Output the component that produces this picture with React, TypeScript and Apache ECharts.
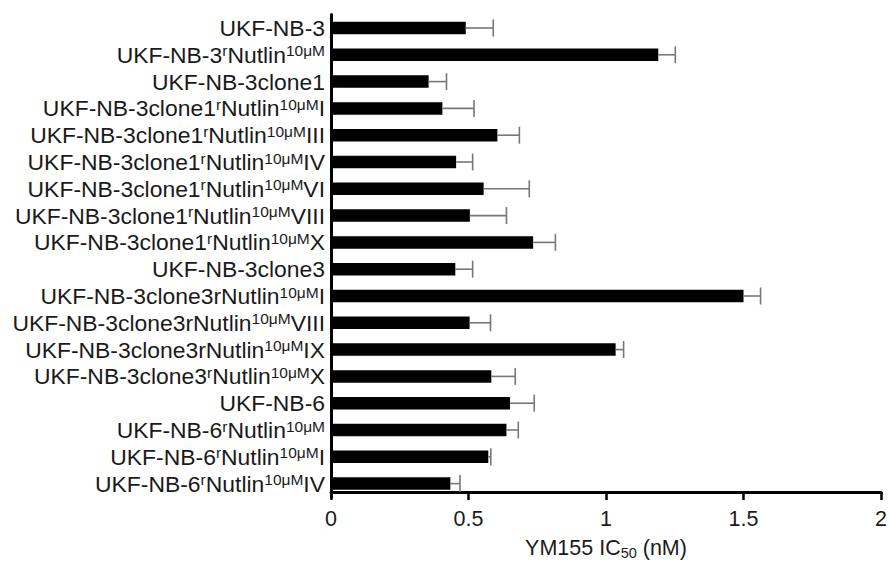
import React, { useEffect, useRef } from "react";
import * as echarts from "echarts";

// {s|...} marks superscript text in a label
const categories: string[] = [
  "UKF-NB-3",
  "UKF-NB-3{s|r}Nutlin{s|10μM}",
  "UKF-NB-3clone1",
  "UKF-NB-3clone1{s|r}Nutlin{s|10μM}I",
  "UKF-NB-3clone1{s|r}Nutlin{s|10μM}III",
  "UKF-NB-3clone1{s|r}Nutlin{s|10μM}IV",
  "UKF-NB-3clone1{s|r}Nutlin{s|10μM}VI",
  "UKF-NB-3clone1{s|r}Nutlin{s|10μM}VIII",
  "UKF-NB-3clone1{s|r}Nutlin{s|10μM}X",
  "UKF-NB-3clone3",
  "UKF-NB-3clone3rNutlin{s|10μM}I",
  "UKF-NB-3clone3rNutlin{s|10μM}VIII",
  "UKF-NB-3clone3rNutlin{s|10μM}IX",
  "UKF-NB-3clone3{s|r}Nutlin{s|10μM}X",
  "UKF-NB-6",
  "UKF-NB-6{s|r}Nutlin{s|10μM}",
  "UKF-NB-6{s|r}Nutlin{s|10μM}I",
  "UKF-NB-6{s|r}Nutlin{s|10μM}IV",
];

const meanValues: number[] = [
  0.49, 1.19, 0.355, 0.405, 0.605, 0.455, 0.555, 0.505, 0.735, 0.452, 1.5,
  0.504, 1.035, 0.583, 0.651, 0.638, 0.572, 0.434,
];

const errorValues: number[] = [
  0.1, 0.062, 0.065, 0.115, 0.08, 0.06, 0.166, 0.133, 0.081, 0.063, 0.062,
  0.076, 0.029, 0.087, 0.088, 0.043, 0.009, 0.035,
];

const xTicks: number[] = [0, 0.5, 1, 1.5, 2];

const FONT = "'Liberation Sans', Arial, Helvetica, sans-serif";
const TEXT = "#1a1a1a";

export default function App() {
  const ref = useRef<HTMLDivElement>(null);

  useEffect(() => {
    if (!ref.current) return;
    const chart = echarts.init(ref.current, null, { renderer: "svg" });
    const errData = meanValues.map((m, i) => [m, i, errorValues[i]]);
    chart.setOption({
      animation: false,
      backgroundColor: "#ffffff",
      textStyle: { fontFamily: FONT },
      grid: { left: 331, right: 8, top: 14.6, bottom: 68, containLabel: false },
      xAxis: {
        type: "value",
        min: xTicks[0],
        max: xTicks[xTicks.length - 1],
        interval: 0.5,
        offset: -5,
        splitLine: { show: false },
        axisLine: { show: true, lineStyle: { color: "#000", width: 3 } },
        axisTick: { show: true, length: 8, lineStyle: { color: "#000", width: 2.5 } },
        axisLabel: {
          color: TEXT,
          fontSize: 21.5,
          fontFamily: FONT,
          margin: 16,
          formatter: (v: number) => String(v),
        },
        name: "YM155 IC{b|50} (nM)",
        nameLocation: "middle",
        nameGap: 44,
        nameTextStyle: {
          color: TEXT,
          fontSize: 21.5,
          fontFamily: FONT,
          lineHeight: 24,
          rich: {
            b: { fontSize: 14.5, fontFamily: FONT, color: TEXT, lineHeight: 12, verticalAlign: "bottom" },
          },
        },
      },
      yAxis: {
        type: "category",
        data: categories,
        inverse: true,
        axisLine: { show: true, onZero: false, lineStyle: { color: "#000", width: 3 } },
        axisTick: { show: false },
        splitLine: { show: false },
        axisLabel: {
          interval: 0,
          color: TEXT,
          fontSize: 22.9,
          fontFamily: FONT,
          margin: 6,
          align: "right",
          lineHeight: 24,
          rich: {
            s: { fontSize: 15.5, fontFamily: FONT, color: TEXT, lineHeight: 12, verticalAlign: "top" },
          },
        },
      },
      series: [
        {
          type: "bar",
          data: meanValues,
          barWidth: 12.5,
          itemStyle: { color: "#000" },
          z: 2,
        },
        {
          type: "custom",
          data: errData,
          encode: { x: [0, 2], y: 1 },
          z: 3,
          renderItem: (params: any, api: any) => {
            const m = api.value(0);
            const idx = api.value(1);
            const e = api.value(2);
            const p0 = api.coord([m, idx]);
            const p1 = api.coord([m + e, idx]);
            const h = 8.5;
            const st = { stroke: "#777777", lineWidth: 1.6 };
            return {
              type: "group",
              children: [
                { type: "line", shape: { x1: p0[0], y1: p0[1], x2: p1[0], y2: p1[1] }, style: st },
                { type: "line", shape: { x1: p1[0], y1: p1[1] - h, x2: p1[0], y2: p1[1] + h }, style: st },
              ],
            };
          },
        },
      ],
    });
    return () => chart.dispose();
  }, []);

  return (
    <div
      ref={ref}
      style={{ position: "fixed", left: 0, top: 0, width: 890, height: 565, background: "#fff" }}
    />
  );
}
